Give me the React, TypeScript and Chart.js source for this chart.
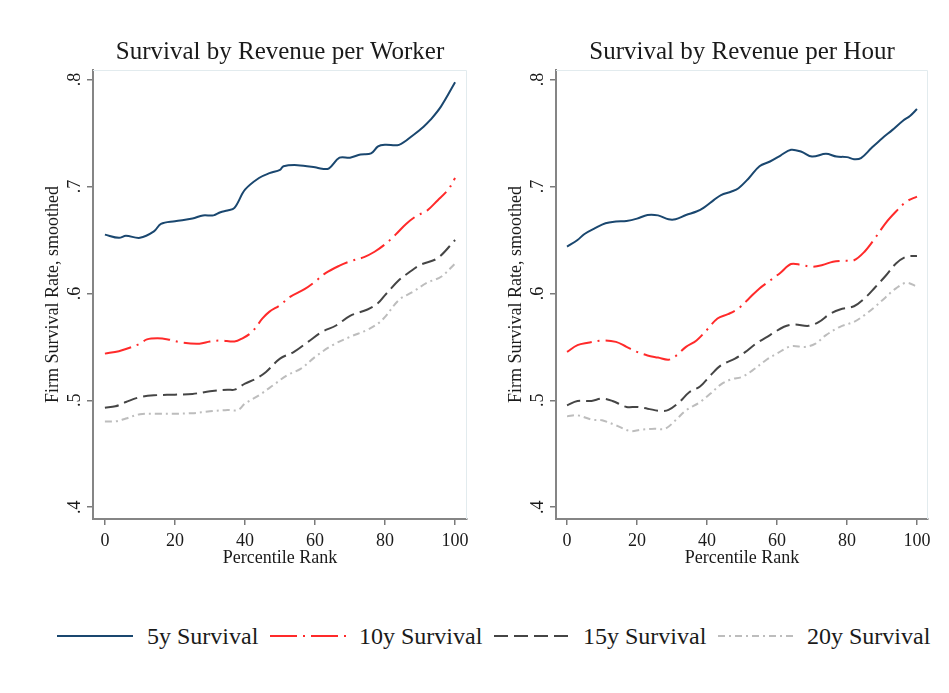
import React, { useEffect, useRef } from "react";
import { Chart, registerables } from "chart.js";

Chart.register(...registerables);

const FONT = "'Liberation Serif', 'Times New Roman', serif";
const TEXT = "#1a1a1a";

const yTicks = [0.4, 0.5, 0.6, 0.7, 0.8];
const yTickLabels = [".4", ".5", ".6", ".7", ".8"];
const xTicks = [0, 20, 40, 60, 80, 100];
const seriesNames = ["5y Survival", "10y Survival", "15y Survival", "20y Survival"];
const panelTitles = ["Survival by Revenue per Worker", "Survival by Revenue per Hour"];
const xTitle = "Percentile Rank";
const yTitle = "Firm Survival Rate, smoothed";

// ---- Left panel: revenue per worker ----
const worker5X = [0, 4, 6, 10, 14, 16, 20, 25, 28, 31, 33, 35, 37, 40, 44, 47, 50, 51, 55, 60, 62, 64, 67, 70, 73, 76, 78, 80, 84, 88, 91, 93, 96, 100];
const worker5Y = [0.655, 0.652, 0.654, 0.652, 0.658, 0.665, 0.6675, 0.670, 0.673, 0.673, 0.676, 0.6775, 0.680, 0.697, 0.708, 0.7125, 0.7156, 0.719, 0.720, 0.718, 0.7166, 0.717, 0.727, 0.727, 0.730, 0.731, 0.7375, 0.739, 0.739, 0.748, 0.756, 0.7625, 0.775, 0.7975];

const worker10X = [0, 4, 6, 10, 12, 15, 18, 22, 27, 30, 33, 37, 39, 42, 45, 47, 50, 53, 57, 60, 63, 67, 70, 74, 77, 80, 83, 86, 89, 92, 95, 98, 100];
const worker10Y = [0.5437, 0.546, 0.548, 0.553, 0.557, 0.558, 0.557, 0.554, 0.553, 0.555, 0.556, 0.555, 0.5575, 0.564, 0.5766, 0.583, 0.589, 0.597, 0.604, 0.611, 0.619, 0.626, 0.630, 0.634, 0.639, 0.646, 0.655, 0.665, 0.6725, 0.6775, 0.687, 0.697, 0.708];

const worker15X = [0, 3, 6, 10, 14, 20, 25, 30, 35, 37, 40, 43, 46, 50, 54, 58, 62, 66, 70, 75, 78, 80, 84, 87, 90, 95, 100];
const worker15Y = [0.4931, 0.4944, 0.4984, 0.503, 0.5047, 0.5053, 0.506, 0.5084, 0.510, 0.510, 0.5156, 0.520, 0.5266, 0.539, 0.5453, 0.5547, 0.564, 0.570, 0.579, 0.585, 0.591, 0.5984, 0.6125, 0.620, 0.6266, 0.633, 0.650];

const worker20X = [0, 3, 6, 10, 15, 20, 25, 30, 35, 38, 40, 44, 48, 52, 56, 60, 65, 70, 75, 78, 80, 84, 88, 92, 96, 100];
const worker20Y = [0.4803, 0.4803, 0.483, 0.487, 0.4875, 0.4875, 0.488, 0.4897, 0.491, 0.491, 0.497, 0.5047, 0.514, 0.5234, 0.5297, 0.5406, 0.5516, 0.5594, 0.566, 0.5719, 0.578, 0.594, 0.6016, 0.610, 0.6156, 0.628];

// ---- Right panel: revenue per hour ----
const hour5X = [0, 3, 5, 8, 11, 14, 17, 20, 23, 26, 29, 31, 34, 37, 39, 42, 44, 47, 49, 52, 55, 58, 61, 64, 67, 70, 74, 77, 80, 82, 84, 87, 90, 93, 96, 98, 100];
const hour5Y = [0.6437, 0.650, 0.6556, 0.661, 0.6656, 0.6672, 0.6678, 0.670, 0.6734, 0.673, 0.6694, 0.6694, 0.6734, 0.6766, 0.680, 0.6875, 0.692, 0.6953, 0.6984, 0.708, 0.719, 0.7234, 0.729, 0.7344, 0.7325, 0.728, 0.7306, 0.728, 0.7275, 0.7256, 0.7266, 0.736, 0.745, 0.753, 0.7616, 0.766, 0.7725];

const hour10X = [0, 3, 6, 10, 14, 17, 20, 23, 26, 29, 31, 34, 37, 40, 43, 46, 49, 52, 55, 58, 61, 64, 67, 70, 73, 76, 79, 82, 85, 88, 91, 94, 97, 100];
const hour10Y = [0.5453, 0.5516, 0.5538, 0.556, 0.5547, 0.550, 0.5453, 0.542, 0.540, 0.538, 0.5413, 0.550, 0.556, 0.566, 0.5766, 0.5806, 0.586, 0.5953, 0.6047, 0.612, 0.6194, 0.6275, 0.6266, 0.625, 0.6266, 0.6297, 0.6306, 0.631, 0.639, 0.6516, 0.6656, 0.6766, 0.686, 0.6906];

const hour15X = [0, 3, 7, 10, 13, 17, 20, 23, 27, 29, 32, 35, 38, 41, 44, 48, 51, 54, 58, 62, 65, 69, 72, 75, 78, 82, 85, 88, 91, 94, 97, 100];
const hour15Y = [0.4953, 0.4994, 0.4994, 0.5016, 0.4994, 0.4938, 0.4938, 0.4922, 0.490, 0.491, 0.498, 0.5078, 0.513, 0.5234, 0.5328, 0.539, 0.5453, 0.5531, 0.561, 0.5688, 0.571, 0.5697, 0.5734, 0.5806, 0.585, 0.588, 0.5953, 0.6056, 0.6163, 0.628, 0.6344, 0.635];

const hour20X = [0, 3, 7, 10, 14, 18, 21, 25, 28, 31, 34, 38, 41, 44, 47, 50, 53, 57, 60, 64, 68, 71, 74, 78, 82, 85, 88, 91, 94, 97, 100];
const hour20Y = [0.485, 0.486, 0.482, 0.4813, 0.4766, 0.4713, 0.4725, 0.4734, 0.4734, 0.4813, 0.4906, 0.4984, 0.5063, 0.515, 0.5197, 0.5219, 0.528, 0.538, 0.5438, 0.5506, 0.550, 0.553, 0.561, 0.5688, 0.5734, 0.5797, 0.5875, 0.5963, 0.6047, 0.610, 0.6063];

const seriesColors = ["#1a476f", "#ff2a2a", "#454545", "#bdbdbd"];
const seriesDash = [[], [27, 6, 2, 6], [14, 6], [7, 4, 2, 4]];
const seriesWidth = [2, 2, 2, 2];

const toPoints = (xs: number[], ys: number[]) => xs.map((x, i) => ({ x, y: ys[i] }));

const panelPlugin = {
  id: "panelDeco",
  beforeDatasetsDraw(chart: any) {
    const { ctx, chartArea } = chart;
    ctx.save();
    ctx.strokeStyle = "#e2ebee";
    ctx.lineWidth = 1;
    ctx.beginPath();
    ctx.moveTo(chartArea.left, chartArea.top + 0.5);
    ctx.lineTo(chartArea.right - 0.5, chartArea.top + 0.5);
    ctx.lineTo(chartArea.right - 0.5, chartArea.bottom);
    ctx.stroke();
    ctx.restore();
  },
  afterDraw(chart: any, _args: any, opts: any) {
    const { ctx, chartArea, scales } = chart;
    ctx.save();
    ctx.fillStyle = TEXT;
    ctx.textAlign = "center";
    ctx.textBaseline = "middle";
    ctx.font = `25px ${FONT}`;
    ctx.fillText(opts.title, (chartArea.left + chartArea.right) / 2, 52);
    ctx.font = `18px ${FONT}`;
    yTicks.forEach((v, i) => {
      const y = scales.y.getPixelForValue(v);
      ctx.save();
      ctx.translate(chartArea.left - 18, y);
      ctx.rotate(-Math.PI / 2);
      ctx.fillText(yTickLabels[i], 0, 0);
      ctx.restore();
    });
    ctx.restore();
  },
};

type PanelProps = {
  title: string;
  data: { x: number; y: number }[][];
  xMin: number;
  xMax: number;
  padRight: number;
};

function Panel({ title, data, xMin, xMax, padRight }: PanelProps) {
  const ref = useRef<HTMLCanvasElement | null>(null);
  useEffect(() => {
    if (!ref.current) return;
    const axisGrid = {
      drawOnChartArea: false,
      drawTicks: true,
      tickLength: 6,
      color: "#7a7a7a",
      lineWidth: 1.5,
    };
    const axisBorder = { display: true, color: "#858585", width: 2 };
    const chart = new Chart(ref.current, {
      type: "line",
      data: {
        datasets: data.map((pts, i) => ({
          label: seriesNames[i],
          data: pts,
          borderColor: seriesColors[i],
          backgroundColor: seriesColors[i],
          borderDash: seriesDash[i],
          borderWidth: seriesWidth[i],
          pointRadius: 0,
          tension: 0.35,
          fill: false,
        })),
      },
      options: {
        animation: false,
        responsive: false,
        maintainAspectRatio: false,
        layout: { padding: { top: 70, right: padRight, left: 0, bottom: 0 } },
        plugins: {
          legend: { display: false },
          title: { display: false },
          tooltip: { enabled: false },
          panelDeco: { title },
        } as any,
        scales: {
          x: {
            type: "linear",
            min: xMin,
            max: xMax,
            afterBuildTicks: (s: any) => {
              s.ticks = xTicks.map((v) => ({ value: v }));
            },
            afterFit: (s: any) => {
              s.height = 81;
            },
            grid: axisGrid,
            border: axisBorder,
            ticks: {
              font: { family: FONT, size: 18 },
              color: TEXT,
              padding: 5,
              maxRotation: 0,
              autoSkip: false,
            },
            title: {
              display: true,
              text: xTitle,
              font: { family: FONT, size: 18 },
              color: TEXT,
              padding: { top: 0, bottom: 31 },
            },
          },
          y: {
            type: "linear",
            min: 0.389,
            max: 0.809,
            afterBuildTicks: (s: any) => {
              s.ticks = yTicks.map((v) => ({ value: v }));
            },
            afterFit: (s: any) => {
              s.width = 93;
            },
            grid: axisGrid,
            border: axisBorder,
            ticks: { display: false },
            title: {
              display: true,
              text: yTitle,
              font: { family: FONT, size: 18 },
              color: TEXT,
              padding: { top: 42, bottom: 0 },
            },
          },
        },
      } as any,
      plugins: [panelPlugin as any],
    });
    return () => chart.destroy();
  }, [title, data, xMin, xMax, padRight]);
  return <canvas ref={ref} width={padRight > 10 ? 486 : 475} height={600} style={{ display: "block" }} />;
}

const leftData = [
  toPoints(worker5X, worker5Y),
  toPoints(worker10X, worker10Y),
  toPoints(worker15X, worker15Y),
  toPoints(worker20X, worker20Y),
];
const rightData = [
  toPoints(hour5X, hour5Y),
  toPoints(hour10X, hour10Y),
  toPoints(hour15X, hour15Y),
  toPoints(hour20X, hour20Y),
];

const legendSampleLeft = [57, 270, 494, 718];
const legendTextLeft = [147, 359, 583, 807];

export default function App() {
  return (
    <div
      style={{
        position: "absolute",
        left: 0,
        top: 0,
        width: 949,
        height: 693,
        background: "#ffffff",
        overflow: "hidden",
      }}
    >
      <div style={{ position: "absolute", left: 0, top: 0 }}>
        <Panel title={panelTitles[0]} data={leftData} xMin={-3.4} xMax={103.4} padRight={8} />
      </div>
      <div style={{ position: "absolute", left: 463, top: 0 }}>
        <Panel title={panelTitles[1]} data={rightData} xMin={-3.15} xMax={103.15} padRight={21} />
      </div>
      {seriesNames.map((name, i) => (
        <React.Fragment key={name}>
          <svg
            style={{ position: "absolute", left: legendSampleLeft[i], top: 630 }}
            width={76}
            height={12}
          >
            <line
              x1={0}
              y1={6}
              x2={76}
              y2={6}
              stroke={seriesColors[i]}
              strokeWidth={2}
              strokeDasharray={seriesDash[i].length ? seriesDash[i].join(" ") : undefined}
            />
          </svg>
          <div
            style={{
              position: "absolute",
              left: legendTextLeft[i],
              top: 622,
              fontFamily: FONT,
              fontSize: 24,
              lineHeight: "28px",
              color: TEXT,
              whiteSpace: "nowrap",
            }}
          >
            {name}
          </div>
        </React.Fragment>
      ))}
    </div>
  );
}
